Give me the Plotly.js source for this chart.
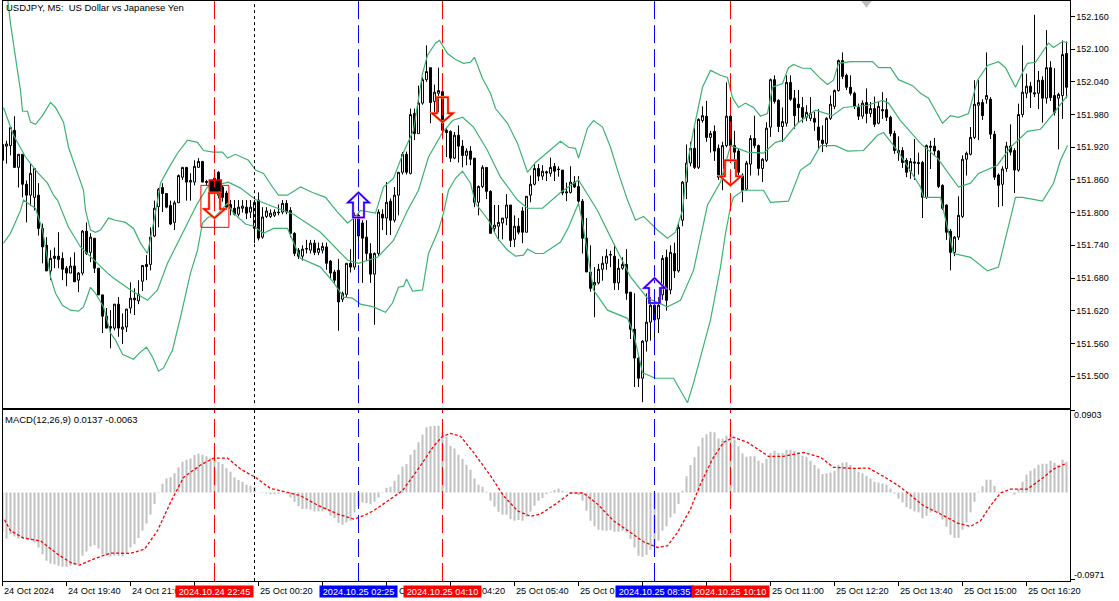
<!DOCTYPE html>
<html><head><meta charset="utf-8">
<script src="https://cdn.plot.ly/plotly-3.0.1.min.js"></script>
<style>html,body{margin:0;padding:0;background:#fff}#c{width:1119px;height:601px}</style>
</head><body><div id="c"></div>
<script>
// Prices are thousandths above 151.000
const PRICE_BASE = 151;
const barOpen = [925,922,923,951,883,907,852,832,828,832,
771,740,693,720,720,716,698,689,702,676,
689,766,727,753,698,649,610,591,588,632,
586,590,625,643,638,674,705,705,757,811,
846,835,813,782,818,865,883,856,856,883,
894,855,856,863,874,847,836,815,808,797,
808,810,801,771,823,755,793,793,795,801,
801,817,804,762,731,720,733,731,744,727,
731,737,711,691,694,641,650,707,700,795,
781,755,725,687,725,797,790,821,786,832,
874,907,872,982,945,1001,1044,1066,1004,1019,
1022,951,949,900,942,922,905,913,900,819,
848,883,839,771,775,781,790,814,751,775,
803,764,832,852,881,867,875,872,885,880,
878,836,837,856,848,821,753,691,667,671,
696,707,722,720,671,698,705,654,586,533,
496,564,599,630,605,649,718,658,725,693,
786,856,891,918,883,969,977,938,949,918,
869,923,977,923,913,869,843,889,936,923,
881,896,957,1044,1006,958,964,1039,1010,999,
993,975,973,973,957,933,927,973,995,1024,
1079,1052,1030,1019,993,977,1002,982,991,964,
989,989,975,945,914,914,896,876,893,892,
892,828,922,922,913,850,814,766,727,755,
793,898,907,938,997,1002,1008,1008,944,869,
852,881,922,914,878,980,1019,1032,1020,1019,
1043,1010,1066,1015,1010,1015,1092];
const barHigh = [925,932,958,977,907,907,859,890,881,854,
780,755,731,736,764,727,702,718,727,691,
768,782,762,753,698,649,625,621,632,645,
615,623,672,661,676,703,722,773,822,845,
854,835,822,822,870,883,883,872,896,900,
894,860,860,872,876,850,840,823,823,823,
823,823,823,823,837,810,810,806,806,815,
823,823,810,764,735,740,750,750,750,745,
745,745,713,695,715,655,707,733,800,800,
786,786,744,727,806,806,856,826,847,874,
911,912,991,991,1033,1048,1107,1066,1035,1066,
1024,955,951,948,960,933,918,922,900,850,
887,883,841,814,814,790,834,814,795,790,
810,830,868,889,889,887,877,901,891,885,
878,855,885,867,867,825,790,740,700,706,
720,733,730,740,715,718,733,654,652,535,
566,652,645,650,645,722,732,740,745,780,
858,925,930,955,973,995,1005,950,960,925,
930,1039,980,950,918,872,895,942,978,925,
900,966,1046,1052,1008,993,1052,1052,1025,1025,
1012,997,1012,985,990,960,975,1015,1026,1081,
1094,1055,1052,1022,1000,1006,1028,1003,1013,1003,
1021,1010,978,950,940,920,900,900,935,910,
895,925,932,937,915,852,815,770,757,830,
905,912,957,1043,1043,1008,1094,1012,950,872,
885,930,962,918,1000,1107,1055,1040,1163,1060,
1050,1135,1078,1065,1020,1116,1114];
const barLow = [883,890,905,883,846,828,782,813,804,758,
707,693,676,698,698,676,665,689,673,654,
685,722,709,689,649,579,588,551,584,572,
559,581,615,612,632,656,676,694,755,773,
801,808,777,768,818,860,822,822,850,883,
856,850,835,825,826,820,805,795,795,793,
800,788,790,744,749,752,790,790,792,795,
797,797,755,720,715,712,725,725,722,722,
725,695,680,670,583,636,645,690,695,735,
671,712,671,594,720,768,759,759,782,795,
870,870,870,933,945,998,1040,964,984,984,
945,902,893,898,892,883,887,887,810,795,
845,825,762,764,749,751,777,737,737,760,
744,764,819,850,858,860,858,866,858,866,
832,821,835,845,818,725,691,655,608,668,
675,695,700,658,658,695,640,568,480,480,
452,545,565,560,579,640,620,650,680,690,
775,825,885,880,880,965,930,910,895,860,
841,920,900,880,860,819,840,868,918,868,
856,893,939,1000,948,930,958,1005,954,965,
965,968,968,950,917,911,920,970,990,1022,
1045,1025,1015,990,970,972,964,975,957,962,
972,968,940,908,895,882,865,862,860,870,
790,825,880,905,845,805,750,694,720,750,
790,868,905,935,933,970,1000,935,860,810,
812,875,905,836,875,975,1010,992,1012,990,
965,1000,1005,978,916,972,1010];
const barClose = [896,926,956,883,907,852,832,872,881,771,
737,693,716,716,714,696,689,702,673,689,
766,725,755,698,649,610,588,588,632,588,
590,623,643,640,650,703,701,755,808,843,
835,810,779,818,868,883,856,859,885,894,
856,857,837,837,832,828,810,808,797,810,
812,799,810,819,753,792,803,799,801,800,
817,801,762,725,720,733,734,744,727,734,
738,707,689,676,636,652,707,700,795,757,
753,725,687,725,801,790,819,786,832,874,
907,874,980,945,1001,1044,1059,1002,1021,1024,
951,947,900,942,922,905,913,898,819,848,
883,839,762,777,782,790,814,749,775,764,
764,830,852,881,867,876,873,883,876,879,
836,838,856,847,821,753,691,661,672,696,
707,720,723,671,698,705,652,586,533,496,
564,599,630,603,630,716,639,727,693,773,
856,891,918,883,971,978,938,945,913,865,
923,977,923,911,874,841,891,936,923,881,
898,955,1044,1004,958,967,1039,1008,978,993,
975,984,982,966,933,927,973,999,1024,1079,
1050,1030,1019,995,977,1001,982,991,962,995,
987,975,945,914,910,892,874,894,891,890,
828,923,920,913,848,808,764,727,755,795,
898,909,938,999,1002,978,1015,944,865,850,
880,922,911,878,980,1021,1032,1021,1018,1043,
1010,1066,1011,984,1017,1090,1030];

// Bollinger bands, read at their visible bends: bar position, price
const upperAt = [1,2,3.25,4.5,5,6.25,7,8.25,10,12,13.25,15.25,16.5,18.75,20.25,20.75,22,23.25,24.5,26.5,28.25,30.75,32.75,34.5,36.25,38,39.5,41.25,43.75,46.25,48.75,50.25,52.75,55,56.25,58.25,61.5,63.25,65.25,67.5,69,71.25,74.5,77.5,80.75,83.75,86.25,88.25,89.5,93.25,95.25,97.75,100.25,102.75,105,106.25,108.25,109.25,111.25,113.25,115.25,117,118,120,122,123.25,126.25,128.75,131.25,133.25,136.25,139.5,141.5,143.25,144,146.25,147.75,150,152,154,156.25,158.25,160.25,163.75,166.25,168.25,170,171.25,172.75,173.75,175,177,179.5,181.25,182.5,184,185.75,187.75,189.5,191.25,192.5,195,196.5,197.75,200,202,204.5,206.25,207.75,209,212,217.5,219,222,224,227.5,229.5,231.5,235,237,239,241.5,243.75,246.25,249,250.75,253.25,255.25,256.25,258.25,261.5,262.75,265,266.25];
const upperVal = [1211,1147,1085,1024,986,986,966,962,978,1002,993,966,920,872,841,804,768,764,768,790,786,782,771,744,725,790,854,878,909,933,929,914,911,911,900,907,896,878,872,847,832,832,847,837,828,801,781,792,804,799,847,863,911,951,1055,1089,1111,1116,1092,1081,1074,1076,1085,1046,1019,991,964,927,874,892,911,931,920,918,900,955,969,957,920,872,823,786,793,768,753,764,804,891,951,988,1030,1061,1052,1048,1011,993,1001,993,977,982,1030,1037,1066,1072,1065,1065,1046,1035,1043,1074,1077,1077,1066,1066,1044,1033,1019,1010,964,978,975,982,1043,1070,1077,1066,1030,1061,1074,1076,1111,1103,1114,1112];
const middleAt = [0.25,2.75,5.75,8.75,11.25,12.75,13.75,16.5,19.5,22.75,26.25,27.75,32,36.25,38.75,41.25,44.5,47,48.75,51.25,56.5,59.5,63.25,66.25,72.75,79.5,86.25,89,93.75,97.75,101.25,104,106.5,110,112.5,115,117.75,121.25,124.5,128.75,131.25,135,139.5,144,147,148.75,152.75,157,161.25,166.25,169.5,172.75,176.25,179.5,182,186.25,190.25,193.25,195.25,198.75,203.25,207.5,210.25,216.25,220,221.5,224.5,229.5,233.75,239,242,244,248.75,252,256.25,259.5,262.75,266.25];
const middleVal = [993,942,902,874,854,832,823,773,737,713,689,680,658,639,658,707,755,792,817,847,856,845,824,815,797,764,713,707,718,749,804,841,902,947,969,975,957,914,865,823,808,808,837,860,823,804,744,682,643,627,639,694,814,856,923,911,909,929,933,964,988,978,993,997,1006,1001,969,927,900,847,854,872,887,920,949,953,982,1015];
const lowerAt = [0.25,2,4.5,5.25,7,8.25,10,12,13.25,15,17,19,20.25,22,23.25,25.25,27,28.25,30,32.75,34.5,36,37.5,39,40.25,42.5,44.5,47,48.75,50,51.5,53.25,56.25,57.75,60.75,62.75,65.25,67.75,71.25,72.75,74.5,79.5,82.75,85.25,87.5,89.5,92.75,95.75,97.5,99,100.25,101,102.5,105,106.5,109,110.25,111.5,113.25,115,117,118.25,121.5,123.75,126.25,128.25,130.25,131.25,133.25,135.25,139.5,141.5,144,145,147.75,151.25,156.25,157.75,160,163.25,167.75,171.25,172.75,177,179.5,180.75,182,182.75,185.25,190.25,192,196.5,199.5,202,204.5,208.25,211.25,215.25,218.75,220.25,223.75,229.5,230.25,234.5,237.75,242,246.25,249,253.25,255,260,262.75,264.5,266.25];
const lowerVal = [744,762,804,823,814,808,768,682,652,630,621,619,627,663,652,627,579,566,540,531,544,553,535,509,515,548,608,689,731,781,792,793,817,799,779,775,762,771,771,744,716,700,672,645,643,632,627,617,634,663,665,678,656,658,725,768,799,841,863,876,854,817,786,753,731,720,722,733,725,725,746,773,817,782,658,621,606,579,506,496,496,451,487,603,700,762,810,828,841,841,819,821,878,891,923,923,913,914,942,947,914,847,828,828,725,718,693,700,828,828,821,854,896,923];

// MACD histogram, ten-thousandths, one value per bar
const macdHist = [-440,-511,-463,-488,-511,-511,-518,-525,-555,-611,
-685,-759,-788,-799,-814,-825,-825,-814,-807,-796,
-703,-655,-600,-585,-622,-685,-703,-710,-703,-703,
-710,-673,-611,-574,-507,-426,-344,-248,-130,-7,
96,155,167,211,278,340,363,377,414,429,
418,400,381,370,340,315,270,229,167,137,
118,85,74,63,-4,-7,-11,-22,-22,-15,
-7,-15,-56,-104,-155,-185,-185,-192,-211,-211,
-211,-196,-259,-285,-340,-359,-333,-315,-222,-148,
-111,-118,-130,-104,-56,-7,48,63,130,196,
285,315,418,474,555,640,722,733,740,740,
673,618,518,488,418,370,307,252,155,85,
63,7,-93,-159,-215,-248,-248,-296,-315,-307,
-315,-270,-215,-148,-93,-63,-19,7,26,44,
19,7,4,7,-30,-93,-204,-315,-377,-414,
-422,-426,-418,-437,-437,-426,-444,-518,-611,-703,
-714,-692,-636,-592,-537,-426,-377,-278,-233,-130,
19,178,303,389,511,607,644,673,666,599,
596,629,648,585,511,433,396,400,400,352,
322,370,437,463,437,433,474,474,463,444,
407,396,352,303,266,204,211,222,241,303,
329,333,303,270,229,211,185,155,118,111,
100,85,44,-11,-70,-111,-166,-185,-211,-222,
-289,-259,-222,-211,-229,-303,-381,-470,-503,-503,
-414,-333,-222,-104,7,67,141,141,74,7,
-4,-7,-7,-26,37,118,196,241,266,307,
318,318,352,329,307,363,340];
const signalAt = [0.5,2,5.25,9.5,13.75,17,19.25,22.75,27,32,35.5,38.75,42,45.25,49.5,52.75,56.25,59.5,63.25,67,71.25,74.5,78.75,83.75,87.75,90.25,92.75,96.25,99,100,104.5,107.75,110,112,114.5,117.75,122,125.25,128.75,132,134.5,138.25,142,145.25,148.75,152.75,157,160.25,163.75,166.25,168.75,172,174.5,177.5,180.25,182.75,186.25,189.5,191.5,195.25,198.75,200.25,204.5,207.75,212.75,216.5,220.25,224,227,230.25,234.5,238.75,242,244.5,247,249.5,252,256.25,260.25,262.75,266];
const signalVal = [-303,-425,-507,-537,-685,-777,-807,-740,-673,-677,-629,-425,-111,166,303,381,381,259,166,44,0,-37,-141,-240,-296,-259,-204,-93,-11,19,296,511,622,655,622,444,185,-37,-204,-266,-240,-130,-7,-7,-130,-315,-444,-548,-611,-592,-444,-185,93,370,555,611,555,463,400,400,433,444,389,278,266,270,178,74,-30,-148,-240,-340,-377,-315,-148,-7,37,37,166,259,322];

// Time axis: tick bar positions; labels show only the part not hidden by the event tags
const timeTickAt = [0,16,32,48,64,80,96,112,128,144,160,176,192,208,224,240,256];
const timeLabelAt = [0,16,32,64,98.9,119.6,128,144,192,208,224,240,256];
const timeLabelText = ["24 Oct 2024","24 Oct 19:40","24 Oct 21:0","25 Oct 00:20","C","04:20","25 Oct 05:40","25 Oct 0","25 Oct 11:00","25 Oct 12:20","25 Oct 13:40","25 Oct 15:00","25 Oct 16:20"];
const priceTicks = [152.16,152.10,152.04,151.98,151.92,151.86,151.80,151.74,151.68,151.62,151.56,151.50];

// Events: bar position, colour, label
const eventAt = [53,89,110,163,182];
const eventColor = ["#ff0000","#0000ff","#ff0000","#0000ff","#ff0000"];
const eventText = ["2024.10.24 22:45","2024.10.25 02:25","2024.10.25 04:10","2024.10.25 08:35","2024.10.25 10:10"];
const cursorAt = 63;
// Arrows: bar position and tip price
const downArrowAt = [53,110,182], downArrowTip = [151.790,151.966,151.850];
const upArrowAt = [89,163], upArrowTip = [151.837,151.680];

const W=1119,H=601;
const px = v=>PRICE_BASE+v/1000;
const xs = barOpen.map((_,i)=>i);
const FONT="Liberation Sans";
const XR=[0,266.75];
const dMain=[1-408/H,1-0.5/H], dMacd=[1-581/H,1-410/H], dX=[2.5/W,1069.5/W];
const BAND={color:'#3cb371',width:1.2};

const traces=[
 {type:'scatter',mode:'lines',x:upperAt,y:upperVal.map(px),xaxis:'x2',yaxis:'y',line:BAND,hoverinfo:'skip'},
 {type:'scatter',mode:'lines',x:middleAt,y:middleVal.map(px),xaxis:'x2',yaxis:'y',line:BAND,hoverinfo:'skip'},
 {type:'scatter',mode:'lines',x:lowerAt,y:lowerVal.map(px),xaxis:'x2',yaxis:'y',line:BAND,hoverinfo:'skip'},
 {type:'candlestick',x:xs,open:barOpen.map(px),high:barHigh.map(px),low:barLow.map(px),close:barClose.map(px),xaxis:'x2',yaxis:'y',
  increasing:{line:{color:'#000',width:1},fillcolor:'#fff'},decreasing:{line:{color:'#000',width:1},fillcolor:'#000'},whiskerwidth:0,hoverinfo:'skip'},
 {type:'scatter',mode:'markers',x:[216],y:[152.185],xaxis:'x2',yaxis:'y',marker:{symbol:'triangle-down',size:10,color:'#bdbdbd'},hoverinfo:'skip',cliponaxis:true},
 {type:'bar',x:xs,y:macdHist.map(v=>v/10000),xaxis:'x',yaxis:'y2',width:0.5,marker:{color:'#c0c0c0',line:{width:0}},hoverinfo:'skip'},
 {type:'scatter',mode:'lines',x:signalAt,y:signalVal.map(v=>v/10000),xaxis:'x',yaxis:'y2',line:{color:'#ff0000',width:1.3,dash:'3px,2px'},hoverinfo:'skip'}
];

const shapes=[];
// large red box and small filled box round the first signal bar
shapes.push({type:'rect',xref:'x2',yref:'y',x0:49.6,x1:56.6,y0:151.850,y1:151.773,line:{color:'#ff0000',width:1},fillcolor:'rgba(0,0,0,0)'});
shapes.push({type:'rect',xref:'x2',yref:'y',x0:51.7,x1:54.7,y0:151.860,y1:151.837,line:{color:'#ff0000',width:1.5},fillcolor:'#000'});
eventAt.forEach((b,k)=>{
 shapes.push({type:'line',xref:'x2',yref:'y domain',x0:b,x1:b,y0:0.012,y1:1,line:{color:eventColor[k],width:1,dash:'18px,6px'}});
 shapes.push({type:'line',xref:'x',yref:'y2 domain',x0:b,x1:b,y0:0,y1:1,line:{color:eventColor[k],width:1,dash:'18px,6px'}});
});
shapes.push({type:'line',xref:'x2',yref:'y domain',x0:cursorAt,x1:cursorAt,y0:0.012,y1:1,line:{color:'#000',width:1,dash:'3px,3px'}});
shapes.push({type:'line',xref:'x',yref:'y2 domain',x0:cursorAt,x1:cursorAt,y0:0,y1:1,line:{color:'#000',width:1,dash:'3px,3px'}});
// arrow outline, in pixels round its tip (anchored to bar and price)
const dn='M0 0 L-10.5 9 L-5.5 9 L-5.5 25 L5.5 25 L5.5 9 L10.5 9 Z';
const up='M0 0 L-10.5 -10 L-5.5 -10 L-5.5 -25 L5.5 -25 L5.5 -10 L10.5 -10 Z';
function arrow(b,p,path,fringe,col){
 [[fringe,2.6],[col,1.5]].forEach(s=>shapes.push({type:'path',xref:'x2',yref:'y',xsizemode:'pixel',ysizemode:'pixel',xanchor:b,yanchor:p,path:path,line:{color:s[0],width:s[1]},fillcolor:'rgba(0,0,0,0)'}));
}
downArrowAt.forEach((b,k)=>arrow(b,downArrowTip[k],dn,'#ffa860','#ff0000'));
upArrowAt.forEach((b,k)=>arrow(b,upArrowTip[k],up,'#ff80ff','#0000ff'));

const annotations=[];
const t=(text,x,y,xa,size,col)=>({text:text,xref:'paper',yref:'paper',x:x/W,y:1-y/H,xanchor:xa,yanchor:'middle',showarrow:false,font:{family:FONT,size:size||10,color:col||'#000'},borderpad:0,borderwidth:0});
annotations.push(t("USDJPY, M5:  US Dollar vs Japanese Yen",6,8,'left',9.5));
annotations.push(t("MACD(12,26,9) 0.0137 -0.0063",5,419,'left',9.5));
annotations.push(t("0.0903",1074,415,'left',9));
annotations.push(t("-0.0971",1074,575,'left',9));
timeLabelAt.forEach((b,k)=>annotations.push({text:timeLabelText[k],xref:'x',yref:'paper',x:b,y:1-591/H,xanchor:'left',yanchor:'middle',showarrow:false,font:{family:FONT,size:9.2,color:'#000'},borderpad:0}));
eventAt.forEach((b,k)=>annotations.push({text:eventText[k],xref:'x',yref:'paper',x:b,y:1-591.5/H,xanchor:'center',yanchor:'middle',showarrow:false,width:77,height:11,align:'center',valign:'middle',bgcolor:eventColor[k],font:{family:FONT,size:9.2,color:'#fff'},borderpad:0}));

const layout={width:W,height:H,margin:{l:0,r:0,t:0,b:0},paper_bgcolor:'#fff',plot_bgcolor:'#fff',showlegend:false,barmode:'overlay',
 font:{family:FONT,size:10,color:'#000'},
 xaxis:{domain:dX,anchor:'y2',range:XR,tickmode:'array',tickvals:timeTickAt,showticklabels:false,ticks:'outside',ticklen:4,tickcolor:'#000',showgrid:false,zeroline:false,showline:true,mirror:true,linecolor:'#000',linewidth:1},
 xaxis2:{domain:dX,anchor:'y',range:XR,showticklabels:false,ticks:'',showgrid:false,zeroline:false,showline:true,mirror:true,linecolor:'#000',linewidth:1,rangeslider:{visible:false}},
 yaxis:{domain:dMain,anchor:'x2',side:'right',range:[151.4414,152.1893],tickmode:'array',tickvals:priceTicks,ticktext:priceTicks.map(v=>v.toFixed(3)),ticks:'outside',ticklen:4,tickcolor:'#000',showgrid:false,zeroline:false,showline:true,mirror:true,linecolor:'#000',linewidth:1,tickfont:{family:FONT,size:9,color:'#000'}},
 yaxis2:{domain:dMacd,anchor:'x',side:'right',range:[-0.0983,0.0914],tickmode:'array',tickvals:[0.0903,-0.0971],showticklabels:false,ticks:'outside',ticklen:4,tickcolor:'#000',showgrid:false,zeroline:false,showline:true,mirror:true,linecolor:'#000',linewidth:1},
 shapes:shapes,annotations:annotations};
Plotly.newPlot('c',traces,layout,{displayModeBar:false,staticPlot:true});
</script></body></html>
